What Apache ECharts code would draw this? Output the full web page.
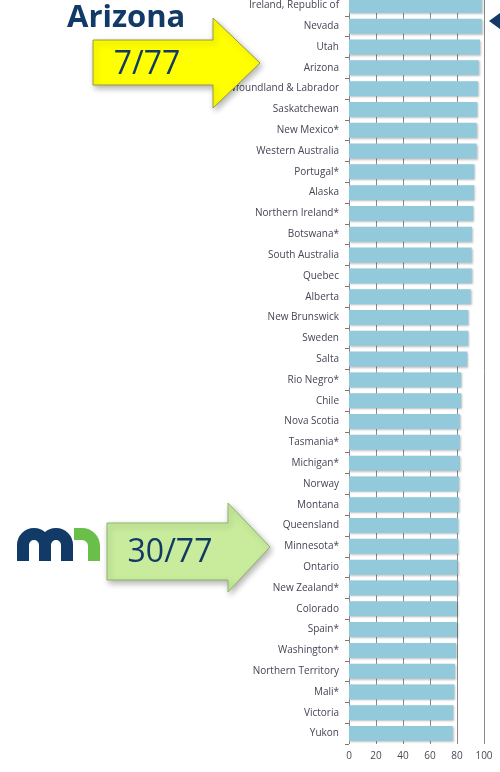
<!DOCTYPE html>
<html>
<head>
<meta charset="utf-8">
<script src="https://cdn.jsdelivr.net/npm/echarts@6/dist/echarts.min.js"></script>
<style>
  html, body { margin: 0; padding: 0; background: #fff; }
  #chart { width: 500px; height: 772px; }
</style>
</head>
<body>
<div id="chart"></div>
<script>
// jurisdictions, top (best) to bottom, as cropped in the slide
var categories = ['Ireland, Republic of', 'Nevada', 'Utah', 'Arizona', 'Newfoundland & Labrador',
  'Saskatchewan', 'New Mexico*', 'Western Australia', 'Portugal*', 'Alaska',
  'Northern Ireland*', 'Botswana*', 'South Australia', 'Quebec', 'Alberta',
  'New Brunswick', 'Sweden', 'Salta', 'Rio Negro*', 'Chile',
  'Nova Scotia', 'Tasmania*', 'Michigan*', 'Norway', 'Montana',
  'Queensland', 'Minnesota*', 'Ontario', 'New Zealand*', 'Colorado',
  'Spain*', 'Washington*', 'Northern Territory', 'Mali*', 'Victoria', 'Yukon'];

var scores = [98.3, 98.3, 97.0, 96.1, 95.6,
  95.1, 94.6, 94.6, 92.8, 92.6,
  92.1, 91.1, 90.9, 90.9, 90.1,
  88.4, 88.4, 87.7, 83.2, 83.2,
  82.2, 82.2, 82.2, 81.5, 81.5,
  81.0, 81.0, 80.5, 80.5, 79.8,
  79.8, 79.3, 78.5, 78.0, 77.3, 76.8];

var navy = '#123a66';
var mnGreen = '#6abf4b';

var myChart = echarts.init(document.getElementById('chart'));

// mn logo pieces (legs + arches)
function logo() {
  var g = [];
  [17, 39, 61].forEach(function (x) {
    g.push({ type: 'rect', z: 100, shape: { x: x, y: 544, width: 12, height: 17 }, style: { fill: navy } });
  });
  [34, 56].forEach(function (cx) {
    g.push({ type: 'arc', z: 100,
      shape: { cx: cx, cy: 545, r: 11, startAngle: Math.PI, endAngle: 2 * Math.PI, clockwise: true },
      style: { fill: null, stroke: navy, lineWidth: 12 } });
  });
  g.push({ type: 'rect', z: 100, shape: { x: 74, y: 528, width: 9, height: 12 }, style: { fill: mnGreen } });
  g.push({ type: 'arc', z: 100,
    shape: { cx: 82, cy: 546, r: 12, startAngle: 1.5 * Math.PI, endAngle: 2 * Math.PI, clockwise: true },
    style: { fill: null, stroke: mnGreen, lineWidth: 12 } });
  g.push({ type: 'rect', z: 100, shape: { x: 88, y: 545, width: 12, height: 16 }, style: { fill: mnGreen } });
  return g;
}

var option = {
  animation: false,
  grid: { left: 349, right: 16, top: -5, bottom: 28, containLabel: false, outerBoundsMode: 'none' },
  xAxis: {
    type: 'value',
    min: 0, max: 100, interval: 20,
    axisLine: { show: false },
    axisTick: { show: false },
    axisLabel: { color: '#4a4a55', fontSize: 10, fontFamily: 'Open Sans', margin: 7 },
    splitLine: { show: true, lineStyle: { color: '#8a8a8a', width: 1 } }
  },
  yAxis: {
    type: 'category',
    inverse: true,
    data: categories,
    axisLine: { show: false },
    axisTick: { show: true, length: 4, lineStyle: { color: '#777' } },
    axisLabel: { color: '#454555', fontSize: 10, fontFamily: 'Open Sans', margin: 10 }
  },
  series: [{
    type: 'bar',
    data: scores,
    barWidth: 15,
    itemStyle: {
      color: '#93cadb',
      shadowColor: 'rgba(0,0,0,0.25)',
      shadowBlur: 2,
      shadowOffsetX: 1,
      shadowOffsetY: 1
    }
  }],
  graphic: [
    // marker at the right edge
    { type: 'polygon', z: 100, shape: { points: [[489, 21], [500, 13], [500, 29]] }, style: { fill: navy } },
    // Arizona callout
    { type: 'text', z: 100, x: 67, y: 18,
      style: { text: 'Arizona', fill: navy, font: 'bold 31px "Open Sans"', textVerticalAlign: 'middle' } },
    { type: 'polygon', z: 100,
      shape: { points: [[93, 40], [213, 40], [213, 18], [260, 63], [213, 108], [213, 85], [93, 85]] },
      style: { fill: '#ffff00', stroke: '#9a9a3a', lineWidth: 1,
        shadowBlur: 6, shadowColor: 'rgba(0,0,0,0.3)', shadowOffsetX: 2, shadowOffsetY: 3 } },
    { type: 'text', z: 101, x: 147, y: 65,
      style: { text: '7/77', fill: navy, font: '32px "Open Sans"', textAlign: 'center', textVerticalAlign: 'middle' } },
    // Minnesota callout
    { type: 'polygon', z: 100,
      shape: { points: [[107, 523], [228, 523], [228, 503], [270, 547], [228, 592], [228, 580], [107, 580]] },
      style: { fill: '#c8eb9c', stroke: '#8db46a', lineWidth: 1,
        shadowBlur: 6, shadowColor: 'rgba(0,0,0,0.3)', shadowOffsetX: 2, shadowOffsetY: 3 } },
    { type: 'text', z: 101, x: 170, y: 553,
      style: { text: '30/77', fill: navy, font: '32px "Open Sans"', textAlign: 'center', textVerticalAlign: 'middle' } }
  ].concat(logo())
};

myChart.setOption(option);
</script>
</body>
</html>
